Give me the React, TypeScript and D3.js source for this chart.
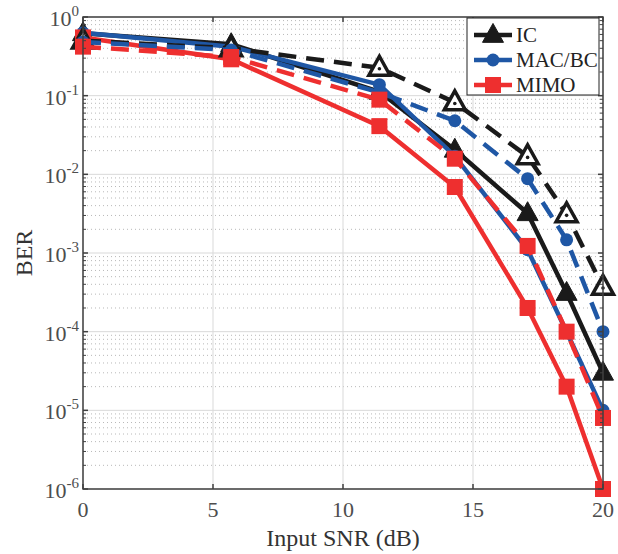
import React from "react";
import * as d3 from "d3";

const snr = [0, 5.7, 11.4, 14.3, 17.1, 18.6, 20];

const icSolid = [0.62, 0.45, 0.112, 0.0205, 0.0032, 0.00031, 0.00003];
const icDashed = [0.5, 0.4, 0.226, 0.082, 0.0169, 0.0031, 0.00037];
const macSolid = [0.63, 0.42, 0.138, 0.017, 0.0011, 0.0001, 0.00001];
const macDashed = [0.48, 0.38, 0.11, 0.048, 0.0088, 0.00147, 0.0001];
const mimoSolid = [0.55, 0.29, 0.041, 0.0069, 0.0002, 0.00002, 0.000001];
const mimoDashed = [0.42, 0.31, 0.089, 0.0158, 0.00123, 0.0001, 0.000008];

const xTicks = [0, 5, 10, 15, 20];
const yExps = [0, -1, -2, -3, -4, -5, -6];

const BLACK = "#1a1a1a";
const BLUE = "#1f57a5";
const RED = "#ee2f2f";

type Series = { name: string; values: number[]; color: string; dashed: boolean; marker: string };

const series: Series[] = [
  { name: "IC", values: icSolid, color: BLACK, dashed: false, marker: "tri" },
  { name: "MAC/BC", values: macSolid, color: BLUE, dashed: false, marker: "circle" },
  { name: "MIMO", values: mimoSolid, color: RED, dashed: false, marker: "square" },
  { name: "IC-d", values: icDashed, color: BLACK, dashed: true, marker: "tri" },
  { name: "MAC-d", values: macDashed, color: BLUE, dashed: true, marker: "circle" },
  { name: "MIMO-d", values: mimoDashed, color: RED, dashed: true, marker: "square" },
];

const legendItems = [
  { label: "IC", color: BLACK, marker: "tri" },
  { label: "MAC/BC", color: BLUE, marker: "circle" },
  { label: "MIMO", color: RED, marker: "square" },
];

const Marker = ({ kind, cx, cy, color, hollow }: { kind: string; cx: number; cy: number; color: string; hollow: boolean }) => {
  if (kind === "tri") {
    const s = 10.5;
    const pts = `${cx},${cy - s * 1.1} ${cx - s},${cy + s * 0.7} ${cx + s},${cy + s * 0.7}`;
    return hollow ? (
      <g>
        <polygon points={pts} fill="#ffffff" stroke={color} strokeWidth={3.5} strokeLinejoin="miter" />
        <circle cx={cx} cy={cy + 1} r={1.8} fill={color} />
      </g>
    ) : (
      <polygon points={pts} fill={color} stroke={color} strokeWidth={1} />
    );
  }
  if (kind === "circle") {
    return <circle cx={cx} cy={cy} r={6.5} fill={color} />;
  }
  return <rect x={cx - 8} y={cy - 8} width={16} height={16} fill={color} />;
};

export default function App() {
  const width = 618;
  const height = 554;
  const margin = { left: 83, right: 15, top: 17, bottom: 65 };

  const x = d3.scaleLinear().domain([0, 20]).range([margin.left, width - margin.right]);
  const y = d3.scaleLog().domain([1e-6, 1]).range([height - margin.bottom, margin.top]);

  const line = d3
    .line<number>()
    .x((_, i) => x(snr[i]))
    .y((d) => y(d));

  const minor: number[] = [];
  yExps.slice(0, -1).forEach((e) => {
    for (let k = 2; k <= 9; k++) minor.push(k * Math.pow(10, e - 1));
  });

  const font = "'Liberation Serif', 'Times New Roman', serif";
  const axisColor = "#404040";
  const [x0, x1] = x.range();
  const [y0, y1] = y.range();

  return (
    <svg width={width} height={height} style={{ position: "absolute", left: 0, top: 0, background: "#fff" }}>
      {/* grid */}
      {minor.map((v, i) => (
        <line key={"mg" + i} x1={x0} x2={x1} y1={y(v)} y2={y(v)} stroke="#b8b8b8" strokeWidth={1} strokeDasharray="1,3" />
      ))}
      {yExps.map((e) => (
        <line key={"yg" + e} x1={x0} x2={x1} y1={y(Math.pow(10, e))} y2={y(Math.pow(10, e))} stroke="#d9d9d9" strokeWidth={1} />
      ))}
      {xTicks.map((t) => (
        <line key={"xg" + t} x1={x(t)} x2={x(t)} y1={y0} y2={y1} stroke="#d9d9d9" strokeWidth={1} />
      ))}

      {/* series */}
      {series.map((s) => (
        <g key={s.name}>
          <path
            d={line(s.values) || ""}
            fill="none"
            stroke={s.color}
            strokeWidth={4.5}
            strokeDasharray={s.dashed ? "18,10" : undefined}
          />
          {s.values.map((v, i) => (
            <Marker key={i} kind={s.marker} cx={x(snr[i])} cy={y(v)} color={s.color} hollow={s.dashed && s.marker === "tri"} />
          ))}
        </g>
      ))}

      {/* axes box and ticks */}
      <rect x={x0} y={y1} width={x1 - x0} height={y0 - y1} fill="none" stroke={axisColor} strokeWidth={1.5} />
      {xTicks.map((t) => (
        <g key={"xt" + t}>
          <line x1={x(t)} x2={x(t)} y1={y0} y2={y0 - 5} stroke={axisColor} strokeWidth={1.5} />
          <line x1={x(t)} x2={x(t)} y1={y1} y2={y1 + 5} stroke={axisColor} strokeWidth={1.5} />
          <text x={x(t)} y={y0 + 28} textAnchor="middle" fontFamily={font} fontSize={22} fill="#4d4d4d">
            {t}
          </text>
        </g>
      ))}
      {minor.map((v, i) => (
        <g key={"mt" + i}>
          <line x1={x0} x2={x0 + 3} y1={y(v)} y2={y(v)} stroke={axisColor} strokeWidth={1} />
          <line x1={x1} x2={x1 - 3} y1={y(v)} y2={y(v)} stroke={axisColor} strokeWidth={1} />
        </g>
      ))}
      {yExps.map((e) => (
        <g key={"yt" + e}>
          <line x1={x0} x2={x0 + 5} y1={y(Math.pow(10, e))} y2={y(Math.pow(10, e))} stroke={axisColor} strokeWidth={1.5} />
          <line x1={x1} x2={x1 - 5} y1={y(Math.pow(10, e))} y2={y(Math.pow(10, e))} stroke={axisColor} strokeWidth={1.5} />
          <text x={x0 - 4} y={y(Math.pow(10, e)) + 9} textAnchor="end" fontFamily={font} fontSize={22} fill="#4d4d4d">
            10
            <tspan dy={-10} fontSize={15}>
              {e}
            </tspan>
          </text>
        </g>
      ))}

      <text x={(x0 + x1) / 2} y={y0 + 57} textAnchor="middle" fontFamily={font} fontSize={24} fill="#333">
        Input SNR (dB)
      </text>
      <text
        transform={`translate(${32},${(y0 + y1) / 2}) rotate(-90)`}
        textAnchor="middle"
        fontFamily={font}
        fontSize={24}
        fill="#333"
      >
        BER
      </text>

      {/* legend */}
      <g>
        <rect x={467} y={18} width={132} height={77} fill="#fff" stroke="#222" strokeWidth={1} />
        {legendItems.map((it, i) => {
          const ly = 35 + i * 25;
          return (
            <g key={it.label}>
              <line x1={474} x2={512} y1={ly} y2={ly} stroke={it.color} strokeWidth={4.5} />
              <Marker kind={it.marker} cx={493} cy={ly} color={it.color} hollow={false} />
              <text x={516} y={ly + 7} fontFamily={font} fontSize={21} fill="#222">
                {it.label}
              </text>
            </g>
          );
        })}
      </g>
    </svg>
  );
}
